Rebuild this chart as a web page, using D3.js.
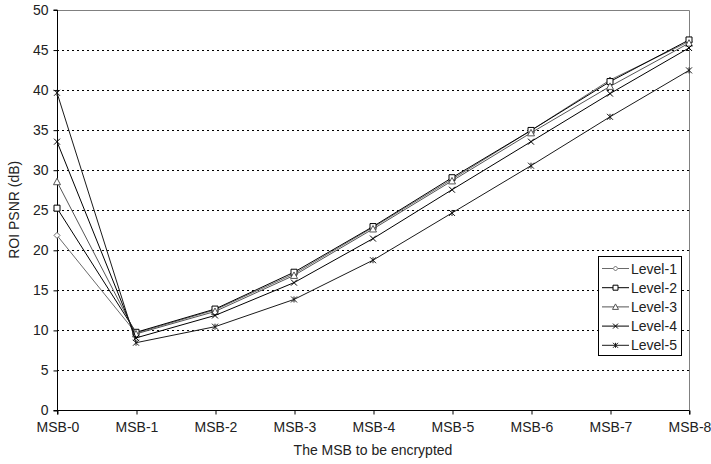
<!DOCTYPE html>
<html><head><meta charset="utf-8">
<script src="https://cdn.jsdelivr.net/npm/d3@7"></script>
<style>body{margin:0;background:#fff}svg text{font-family:"Liberation Sans",Arial,sans-serif}</style>
</head><body><svg id="c" width="711" height="464"></svg>
<script>
const categories = ["MSB-0","MSB-1","MSB-2","MSB-3","MSB-4","MSB-5","MSB-6","MSB-7","MSB-8"];
const seriesNames = ["Level-1","Level-2","Level-3","Level-4","Level-5"];
const level1 = [21.8, 9.6, 12.5, 17.0, 22.8, 28.8, 34.9, 41.2, 46.0];
const level2 = [25.2, 9.7, 12.6, 17.2, 22.9, 29.0, 34.9, 41.0, 46.2];
const level3 = [28.5, 9.5, 12.3, 16.8, 22.6, 28.6, 34.6, 40.4, 45.8];
const level4 = [33.5, 9.0, 11.8, 15.9, 21.4, 27.5, 33.5, 39.5, 45.2];
const level5 = [39.6, 8.4, 10.4, 13.8, 18.7, 24.6, 30.5, 36.6, 42.4];
const yTicks = [0,5,10,15,20,25,30,35,40,45,50];
const seriesValues = [level1, level2, level3, level4, level5];
const seriesColors = ["#6a6a6a","#000000","#555555","#000000","#1a1a1a"];
const markers = ["diamond","square","triangle","cross","star"];

const svg = d3.select("#c");
const L = 57, R = 689, T = 9.5, B = 410;
const FS = 14;
const x = d3.scalePoint().domain(categories).range([L, R]);
const y = d3.scaleLinear().domain([0, 50]).range([B, T]);

// grid
svg.append("g").selectAll("line").data(yTicks.filter(d => d > 0 && d < 50)).join("line")
  .attr("x1", L).attr("x2", R).attr("y1", d => Math.round(y(d)) + 0.5).attr("y2", d => Math.round(y(d)) + 0.5)
  .attr("stroke", "#000").attr("stroke-dasharray", "2,3").attr("stroke-width", 1);
// frame top/right
svg.append("path").attr("d", `M${L},${Math.round(T)+0.5}H${R+0.5}V${B}`)
  .attr("fill", "none").attr("stroke", "#808080");

// axes
const yAxis = d3.axisLeft(y).tickValues(yTicks).tickSize(4).tickPadding(5);
const gy = svg.append("g").attr("transform", `translate(${L+0.5},0.5)`).call(yAxis);
gy.select(".domain").attr("stroke", "#000").attr("d", `M-4,${y(50)}H0V${y(0)}H-4`);
gy.selectAll("text").attr("font-size", FS).attr("fill", "#222");
const xAxis = d3.axisBottom(x).tickSize(4).tickPadding(8);
const gx = svg.append("g").attr("transform", `translate(0.5,${B+0.5})`).call(xAxis);
gx.select(".domain").attr("stroke", "#000").attr("d", `M${L},4V0H${R}V4`);
gx.selectAll("text").attr("font-size", FS).attr("fill", "#222");

svg.append("text").attr("x", (L + R) / 2).attr("y", 455).attr("text-anchor", "middle")
  .attr("font-size", FS).attr("fill", "#222").text("The MSB to be encrypted");
svg.append("text").attr("transform", `translate(19,${(T + B) / 2}) rotate(-90)`).attr("text-anchor", "middle")
  .attr("font-size", FS).attr("fill", "#222").text("ROI PSNR (dB)");

function markerPath(type, s) {
  switch (type) {
    case "diamond": return `M0,${-s}L${s},0L0,${s}L${-s},0Z`;
    case "square": return `M${-s},${-s}H${s}V${s}H${-s}Z`;
    case "triangle": return `M0,${-s-0.5}L${s+0.5},${s}H${-s-0.5}Z`;
    case "cross": return `M${-s},${-s}L${s},${s}M${-s},${s}L${s},${-s}`;
    case "star": return `M${-s},${-s}L${s},${s}M${-s},${s}L${s},${-s}M0,${-s}V${s}`;
  }
}
const line = d3.line().x((d, i) => x(categories[i])).y(d => y(d));
seriesValues.forEach((vals, k) => {
  const g = svg.append("g");
  g.append("path").datum(vals).attr("d", line).attr("fill", "none")
    .attr("stroke", seriesColors[k]).attr("stroke-width", 1);
  g.selectAll("path.m").data(vals).join("path").attr("class", "m")
    .attr("transform", (d, i) => `translate(${x(categories[i])},${y(d)})`)
    .attr("d", markerPath(markers[k], 3))
    .attr("fill", (markers[k] === "cross" || markers[k] === "star") ? "none" : "#fff")
    .attr("stroke", seriesColors[k]).attr("stroke-width", 1);
});

// legend
const lg = svg.append("g");
lg.append("rect").attr("x", 598.5).attr("y", 256.5).attr("width", 83).attr("height", 99)
  .attr("fill", "#fff").attr("stroke", "#000");
seriesNames.forEach((n, k) => {
  const cy = 268.5 + k * 19.2;
  lg.append("line").attr("x1", 602).attr("x2", 629).attr("y1", cy).attr("y2", cy).attr("stroke", seriesColors[k]);
  lg.append("path").attr("transform", `translate(615.5,${cy})`).attr("d", markerPath(markers[k], 2.5))
    .attr("fill", (markers[k] === "cross" || markers[k] === "star") ? "none" : "#fff").attr("stroke", seriesColors[k]);
  lg.append("text").attr("x", 631).attr("y", cy + 5).attr("font-size", FS).attr("fill", "#222").text(n);
});
</script></body></html>
